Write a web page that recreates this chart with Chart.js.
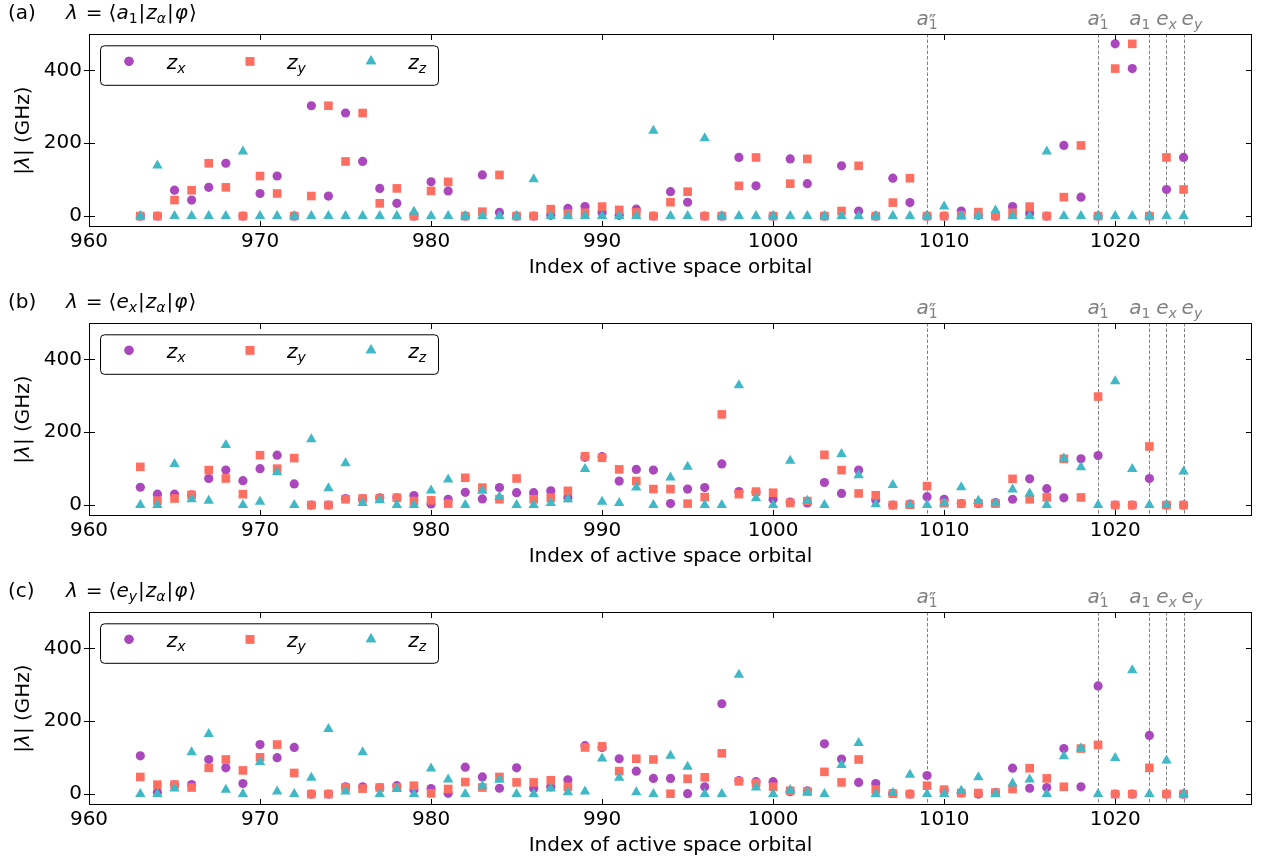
<!DOCTYPE html>
<html>
<head>
<meta charset="utf-8">
<script src="https://cdn.jsdelivr.net/npm/chart.js@4/dist/chart.umd.min.js"></script>
<style>
  html, body { margin: 0; padding: 0; background: #fff; }
  #wrap { position: relative; width: 1271px; height: 865px; overflow: hidden; }
  canvas { position: absolute; left: 0; }
</style>
</head>
<body>
<div id="wrap">
  <canvas id="panelA" width="1271" height="287" style="top:0px"></canvas>
  <canvas id="panelB" width="1271" height="287" style="top:289px"></canvas>
  <canvas id="panelC" width="1271" height="287" style="top:578px"></canvas>
</div>
<script>
// Active-space orbital indices
const ORBITALS = [
  963, 964, 965, 966, 967, 968, 969, 970, 971, 972,
  973, 974, 975, 976, 977, 978, 979, 980, 981, 982,
  983, 984, 985, 986, 987, 988, 989, 990, 991, 992,
  993, 994, 995, 996, 997, 998, 999, 1000, 1001, 1002,
  1003, 1004, 1005, 1006, 1007, 1008, 1009, 1010, 1011, 1012,
  1013, 1014, 1015, 1016, 1017, 1018, 1019, 1020, 1021, 1022,
  1023, 1024
];

// (a) |<a1|z_alpha|phi>| in GHz
const A_ZX = [
  0, 0, 71, 44, 79, 145, 0, 62, 110, 0,
  303, 55, 283, 150, 76, 35, 0, 94, 69, 0,
  113, 10, 0, 0, 2, 21, 26, 9, 2, 19,
  0, 67, 38, 0, 0, 161, 83, 0, 157, 89,
  0, 138, 14, 0, 104, 37, 0, 0, 14, 2,
  0, 26, 7, 0, 194, 52, 0, 473, 405, 0,
  73, 161
];
const A_ZY = [
  0, 0, 44, 71, 145, 79, 0, 110, 62, 0,
  55, 303, 150, 283, 35, 76, 0, 69, 94, 0,
  12, 113, 0, 0, 19, 7, 9, 26, 17, 10,
  0, 38, 67, 0, 0, 83, 161, 0, 89, 157,
  0, 14, 138, 0, 37, 104, 0, 0, 2, 11,
  0, 9, 26, 0, 52, 194, 0, 405, 473, 0,
  161, 73
];
const A_ZZ = [
  0, 139, 0, 0, 0, 0, 177, 0, 0, 0,
  0, 0, 0, 0, 0, 0, 12, 0, 0, 0,
  0, 0, 0, 101, 0, 0, 0, 0, 0, 0,
  234, 0, 0, 214, 0, 0, 0, 0, 0, 0,
  0, 0, 0, 0, 0, 0, 0, 26, 0, 0,
  15, 0, 0, 177, 0, 0, 0, 0, 0, 0,
  0, 0
];

// (b) |<e_x|z_alpha|phi>| in GHz
const B_ZX = [
  49, 30, 30, 28, 73, 96, 67, 100, 137, 58,
  0, 0, 18, 17, 20, 20, 26, 3, 16, 35,
  17, 48, 34, 34, 39, 20, 131, 133, 66, 98,
  96, 4, 44, 48, 113, 37, 35, 16, 8, 6,
  62, 32, 96, 14, 0, 3, 23, 16, 4, 4,
  7, 16, 72, 45, 20, 127, 136, 0, 0, 73,
  0, 0
];
const B_ZY = [
  105, 12, 18, 28, 96, 73, 30, 137, 100, 129,
  0, 0, 16, 18, 18, 20, 11, 13, 4, 75,
  48, 16, 73, 16, 20, 39, 134, 130, 98, 66,
  44, 44, 4, 22, 249, 30, 37, 34, 6, 11,
  138, 96, 32, 27, 0, 1, 52, 5, 4, 5,
  4, 72, 16, 21, 127, 21, 298, 0, 0, 161,
  0, 0
];
const B_ZZ = [
  0, 0, 113, 16, 12, 165, 0, 9, 90, 0,
  181, 46, 115, 6, 13, 0, 0, 40, 70, 0,
  39, 23, 0, 0, 6, 16, 99, 9, 6, 48,
  0, 76, 105, 0, 0, 329, 19, 0, 122, 12,
  0, 140, 82, 2, 55, 0, 0, 5, 49, 12,
  5, 43, 32, 0, 128, 104, 0, 340, 99, 0,
  0, 92
];

// (c) |<e_y|z_alpha|phi>| in GHz
const C_ZX = [
  105, 5, 25, 26, 95, 72, 29, 136, 100, 128,
  0, 0, 20, 20, 18, 23, 12, 15, 2, 74,
  47, 16, 72, 15, 20, 39, 133, 128, 97, 63,
  43, 43, 1, 20, 248, 37, 34, 34, 7, 9,
  138, 96, 32, 29, 2, 0, 51, 10, 3, 0,
  4, 71, 16, 18, 125, 20, 297, 0, 0, 161,
  0, 0
];
const C_ZY = [
  47, 26, 26, 18, 72, 95, 65, 101, 136, 58,
  0, 0, 18, 15, 18, 18, 23, 2, 14, 33,
  18, 47, 32, 32, 38, 20, 128, 131, 63, 97,
  95, 1, 42, 46, 112, 35, 30, 20, 9, 7,
  61, 32, 95, 12, 1, 0, 23, 12, 3, 3,
  4, 14, 71, 43, 20, 125, 135, 0, 0, 72,
  0, 0
];
const C_ZZ = [
  0, 0, 15, 115, 165, 12, 0, 88, 7, 0,
  45, 179, 7, 115, 0, 14, 0, 70, 40, 0,
  23, 39, 0, 0, 15, 5, 7, 98, 45, 5,
  0, 105, 75, 0, 0, 328, 18, 0, 11, 5,
  0, 80, 140, 0, 3, 53, 0, 0, 9, 46,
  0, 29, 40, 0, 104, 126, 0, 99, 340, 0,
  92, 0
];

// Axis ticks
const X_TICKS = [960, 970, 980, 990, 1000, 1010, 1020];
const Y_TICKS = [0, 200, 400];

// Orbitals of defined symmetry (dashed markers)
const SYMMETRY_ORBITALS = [1009, 1019, 1022, 1023, 1024];

// Rich-text pieces: it = italic, sub = subscript, prime = full-size prime mark, stack = same x as previous
const SYMMETRY_LABELS = [
  [{ t: 'a', it: true }, { t: '\u2033', prime: true }, { t: '1', sub: true, stack: true }],
  [{ t: 'a', it: true }, { t: '\u2032', prime: true }, { t: '1', sub: true, stack: true }],
  [{ t: 'a', it: true }, { t: '1', sub: true }],
  [{ t: 'e', it: true }, { t: 'x', it: true, sub: true }],
  [{ t: 'e', it: true }, { t: 'y', it: true, sub: true }]
];
const SYMMETRY_ALIGN = ['center', 'center', 'right', 'center', 'left'];
const SYMMETRY_SHIFT = [0, 0, 1, 0, -2];

const SERIES_NAMES = [
  [{ t: 'z', it: true }, { t: 'x', it: true, sub: true }],
  [{ t: 'z', it: true }, { t: 'y', it: true, sub: true }],
  [{ t: 'z', it: true }, { t: 'z', it: true, sub: true }]
];
const SERIES_COLORS = ['#AB47BC', '#FF6F61', '#40B8C6'];
const SERIES_STYLES = ['circle', 'rect', 'triangle'];
const SERIES_RADII = [4.6, 6.1, 6.0];

const FAMILY = '"DejaVu Sans", sans-serif';
Chart.defaults.font.family = FAMILY;
Chart.defaults.color = '#000';

function segFont(s, size) {
  const sz = s.sub ? size * 0.7 : size;
  return (s.it ? 'italic ' : '') + sz.toFixed(1) + 'px ' + FAMILY;
}

function layoutRich(ctx, segs, size) {
  let x = 0, lastX = 0;
  const items = [];
  for (const s of segs) {
    ctx.font = segFont(s, size);
    const w = ctx.measureText(s.t).width;
    const px = s.stack ? lastX : x + (s.gap || 0);
    const dy = s.sub ? size * 0.2 : (s.prime ? size * 0.15 : 0);
    items.push({ t: s.t, x: px, dy, font: ctx.font });
    if (s.stack) { x = Math.max(x, px + w); } else { lastX = px; x = px + w; }
  }
  return { items, width: x };
}

function drawRich(ctx, segs, x, y, size, color, align) {
  const lay = layoutRich(ctx, segs, size);
  let x0 = x;
  if (align === 'center') x0 = x - lay.width / 2;
  else if (align === 'right') x0 = x - lay.width;
  ctx.save();
  ctx.fillStyle = color;
  ctx.textBaseline = 'alphabetic';
  ctx.textAlign = 'left';
  for (const it of lay.items) {
    ctx.font = it.font;
    ctx.fillText(it.t, x0 + it.x, y + it.dy);
  }
  ctx.restore();
  return lay.width;
}

function marker(ctx, style, radius, color, x, y) {
  ctx.save();
  ctx.fillStyle = color;
  if (Chart.helpers && Chart.helpers.drawPoint) {
    Chart.helpers.drawPoint(ctx, { pointStyle: style, radius: radius, rotation: 0, borderWidth: 0 }, x, y);
    ctx.fill();
  } else {
    ctx.beginPath();
    if (style === 'circle') ctx.arc(x, y, radius, 0, Math.PI * 2);
    else if (style === 'rect') { const s = radius * Math.SQRT1_2; ctx.rect(x - s, y - s, 2 * s, 2 * s); }
    else { ctx.moveTo(x, y - radius); ctx.lineTo(x - radius * 0.866, y + radius / 2); ctx.lineTo(x + radius * 0.866, y + radius / 2); ctx.closePath(); }
    ctx.fill();
  }
  ctx.restore();
}

const decor = {
  id: 'decor',
  beforeDatasetsDraw(chart) {
    const { ctx, chartArea: a, scales: { x } } = chart;
    ctx.save();
    ctx.strokeStyle = '#808080';
    ctx.lineWidth = 1;
    ctx.setLineDash([3.5, 2]);
    SYMMETRY_ORBITALS.forEach(v => {
      const px = Math.round(x.getPixelForValue(v)) + 0.5;
      ctx.beginPath();
      ctx.moveTo(px, a.top);
      ctx.lineTo(px, a.bottom);
      ctx.stroke();
    });
    ctx.restore();
  },
  afterDatasetsDraw(chart, args, opts) {
    const { ctx, chartArea: a, scales: { x, y } } = chart;
    const L = Math.round(a.left) + 0.5, R = Math.round(a.right) - 0.5;
    const T = Math.round(a.top) + 0.5, B = Math.round(a.bottom) - 0.5;

    // frame
    ctx.save();
    ctx.strokeStyle = '#000';
    ctx.lineWidth = 1;
    ctx.strokeRect(L, T, R - L, B - T);

    // ticks: inward on all sides, outward too on the left
    const tl = 5.5;
    ctx.beginPath();
    X_TICKS.forEach(v => {
      const px = Math.round(x.getPixelForValue(v)) + 0.5;
      ctx.moveTo(px, B); ctx.lineTo(px, B - tl);
      ctx.moveTo(px, T); ctx.lineTo(px, T + tl);
    });
    Y_TICKS.forEach(v => {
      const py = Math.round(y.getPixelForValue(v)) + 0.5;
      ctx.moveTo(L - tl, py); ctx.lineTo(L + tl, py);
      ctx.moveTo(R, py); ctx.lineTo(R - tl, py);
    });
    ctx.stroke();
    ctx.restore();

    // symmetry labels above the frame
    SYMMETRY_ORBITALS.forEach((v, i) => {
      const px = x.getPixelForValue(v) + SYMMETRY_SHIFT[i];
      drawRich(ctx, SYMMETRY_LABELS[i], px, a.top - 9.5, 20, '#808080', SYMMETRY_ALIGN[i]);
    });

    // legend
    const bx = a.left + 11, by = a.top + 11.3, bw = 338, bh = 39.5;
    ctx.save();
    ctx.beginPath();
    if (ctx.roundRect) ctx.roundRect(bx + 0.5, by + 0.5, bw, bh, 4);
    else ctx.rect(bx + 0.5, by + 0.5, bw, bh);
    ctx.fillStyle = 'rgba(255,255,255,0.8)';
    ctx.fill();
    ctx.strokeStyle = '#000';
    ctx.lineWidth = 1;
    ctx.stroke();
    ctx.restore();
    const mX = [29, 150, 271], tX = [66.7, 187, 308.3];
    chart.data.datasets.forEach((ds, i) => {
      marker(ctx, ds.pointStyle, ds.pointRadius, ds.backgroundColor, bx + mX[i], by + 16);
      drawRich(ctx, SERIES_NAMES[i], bx + tX[i], by + 23.3, 20, '#000', 'left');
    });

    // panel title
    ctx.save();
    ctx.font = '20px ' + FAMILY;
    ctx.fillStyle = '#000';
    ctx.textBaseline = 'alphabetic';
    ctx.fillText(opts.tag, 8, 18.5);
    ctx.restore();
    drawRich(ctx, opts.title, 66, 18.5, 20, '#000', 'left');

    // y-axis title
    ctx.save();
    ctx.translate(22, (a.top + a.bottom) / 2);
    ctx.rotate(-Math.PI / 2);
    drawRich(ctx, [{ t: '|' }, { t: '\u03bb', it: true }, { t: '| (GHz)' }], 0, 7, 20, '#000', 'center');
    ctx.restore();
  }
};

function titleSegs(bra) {
  return [
    { t: '\u03bb', it: true },
    { t: '=', gap: 8 },
    { t: '\u27e8', gap: 6 },
    ...bra,
    { t: '|', gap: 1 },
    { t: 'z', it: true, gap: 1 },
    { t: '\u03b1', it: true, sub: true },
    { t: '|', gap: 1 },
    { t: '\u03c6', it: true, gap: 1 },
    { t: '\u27e9', gap: 1 }
  ];
}

function makePanel(id, tag, bra, zx, zy, zz) {
  const series = [zx, zy, zz];
  const datasets = series.map((vals, i) => ({
    label: ['zx', 'zy', 'zz'][i],
    data: ORBITALS.map((o, k) => ({ x: o, y: vals[k] })),
    pointStyle: SERIES_STYLES[i],
    pointRadius: SERIES_RADII[i],
    pointHoverRadius: SERIES_RADII[i],
    backgroundColor: SERIES_COLORS[i],
    borderColor: SERIES_COLORS[i],
    borderWidth: 0,
    order: 3 - i
  }));
  return new Chart(document.getElementById(id), {
    type: 'scatter',
    data: { datasets },
    options: {
      responsive: false,
      animation: false,
      devicePixelRatio: 1,
      events: [],
      layout: { padding: { top: 34, right: 19, left: 0, bottom: 0 } },
      plugins: {
        legend: { display: false },
        tooltip: { enabled: false },
        decor: { tag, title: titleSegs(bra) }
      },
      scales: {
        x: {
          type: 'linear',
          min: 960,
          max: 1028,
          afterBuildTicks: s => { s.ticks = X_TICKS.map(v => ({ value: v })); },
          afterFit: s => { s.height = 60; },
          grid: { display: false, drawTicks: false },
          border: { display: false },
          ticks: { font: { size: 20 }, color: '#000', padding: 3, maxRotation: 0, autoSkip: false, callback: v => String(v) },
          title: {
            display: true,
            text: 'Index of active space orbital',
            font: { size: 20 },
            color: '#000',
            padding: { top: 0, bottom: 7 }
          }
        },
        y: {
          type: 'linear',
          min: -30,
          max: 500,
          afterBuildTicks: s => { s.ticks = Y_TICKS.map(v => ({ value: v })); },
          afterFit: s => { s.width = 89; },
          grid: { display: false, drawTicks: false },
          border: { display: false },
          ticks: { font: { size: 20 }, color: '#000', padding: 7, callback: v => String(v) }
        }
      }
    },
    plugins: [decor]
  });
}

makePanel('panelA', '(a)', [{ t: 'a', it: true }, { t: '1', sub: true }], A_ZX, A_ZY, A_ZZ);
makePanel('panelB', '(b)', [{ t: 'e', it: true }, { t: 'x', it: true, sub: true }], B_ZX, B_ZY, B_ZZ);
makePanel('panelC', '(c)', [{ t: 'e', it: true }, { t: 'y', it: true, sub: true }], C_ZX, C_ZY, C_ZZ);
</script>
</body>
</html>
